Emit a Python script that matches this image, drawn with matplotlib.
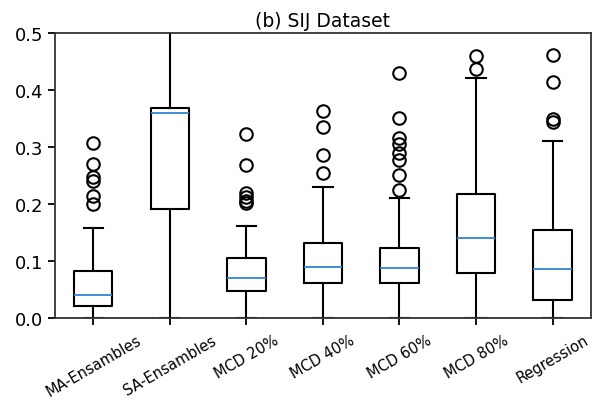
import matplotlib
matplotlib.use('Agg')
import matplotlib.pyplot as plt

# 数据
labels = ['MA-Ensambles', 'SA-Ensambles', 'MCD 20%', 'MCD 40%', 'MCD 60%', 'MCD 80%', 'Regression']
q1 = [0.022, 0.192, 0.048, 0.061, 0.061, 0.080, 0.032]
med = [0.040, 0.360, 0.071, 0.090, 0.088, 0.140, 0.086]
q3 = [0.082, 0.368, 0.106, 0.132, 0.123, 0.218, 0.154]
whislo = [0.0, 0.0, 0.0, 0.0, 0.0, 0.0, 0.0]
whishi = [0.159, 0.65, 0.162, 0.231, 0.210, 0.421, 0.311]
fliers = [
    [0.307, 0.271, 0.248, 0.240, 0.215, 0.200],
    [],
    [0.323, 0.269, 0.219, 0.212, 0.205, 0.202],
    [0.363, 0.336, 0.286, 0.255],
    [0.430, 0.352, 0.316, 0.305, 0.290, 0.277, 0.251, 0.225],
    [0.460, 0.437],
    [0.461, 0.415, 0.349, 0.345],
]

stats = []
for i in range(len(labels)):
    stats.append({'label': labels[i], 'q1': q1[i], 'med': med[i], 'q3': q3[i],
                  'whislo': whislo[i], 'whishi': whishi[i], 'fliers': fliers[i]})

fig = plt.figure(figsize=(5.92, 4.02), dpi=100)
ax = fig.add_axes([0.093, 0.206, 0.905, 0.709])

lw = 1.5
ax.bxp(stats,
       boxprops=dict(color='black', linewidth=lw),
       whiskerprops=dict(color='black', linewidth=lw),
       capprops=dict(color='black', linewidth=lw),
       medianprops=dict(color='#2f86d6', linewidth=1.3),
       flierprops=dict(marker='o', markerfacecolor='none', markeredgecolor='black',
                       markersize=9, markeredgewidth=1.5))

ax.set_ylim(0, 0.5)
ax.set_yticks([0.0, 0.1, 0.2, 0.3, 0.4, 0.5])
ax.set_xticklabels(labels, rotation=30, ha='center', fontsize=10.5)
ax.tick_params(axis='y', labelsize=13, length=5, width=1.3)
ax.tick_params(axis='x', length=5, width=1.3, pad=5)
for s in ax.spines.values():
    s.set_linewidth(1.3)
    s.set_color('#333333')
ax.set_title('(b) SIJ Dataset', fontsize=13.5, pad=5)

plt.savefig('out.png', dpi=100)
